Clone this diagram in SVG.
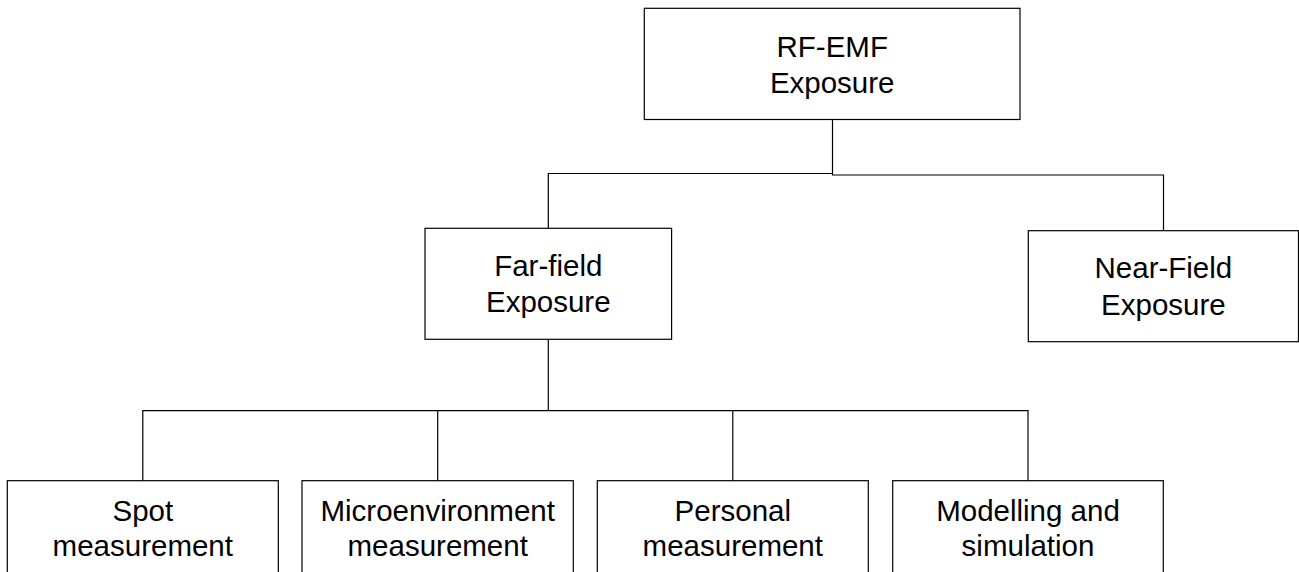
<svg xmlns="http://www.w3.org/2000/svg" width="1299" height="572" viewBox="0 0 1299 572">
<style>
.box{fill:#fff;stroke:#000;stroke-width:1.2}
.lbl{font-family:"Liberation Sans",Arial,sans-serif;font-size:29.5px;fill:#000;text-anchor:middle}
.con{fill:none;stroke:#000;stroke-width:1.2}
</style>
<rect width="1299" height="572" fill="#fff"/>
<g id="connectors">
<polyline class="con" points="832.5,119.5 832.5,175 1163.5,175 1163.5,230.7"/>
<polyline class="con" points="832.5,173.5 548.3,173.5 548.3,228.3"/>
<line class="con" x1="548.3" y1="339.3" x2="548.3" y2="410.7"/>
<polyline class="con" points="142.8,480.7 142.8,410.7 1028,410.7 1028,480.7"/>
<line class="con" x1="437.7" y1="410.7" x2="437.7" y2="480.7"/>
<line class="con" x1="732.8" y1="410.7" x2="732.8" y2="480.7"/>
</g>
<g id="root">
<rect class="box" x="644.3" y="8.3" width="375.7" height="111.2"/>
<text class="lbl" x="832.2" y="56.7">RF-EMF</text>
<text class="lbl" x="832.2" y="93.3">Exposure</text>
</g>
<g id="farfield">
<rect class="box" x="425" y="228.3" width="246.6" height="111"/>
<text class="lbl" x="548.3" y="275.7">Far-field</text>
<text class="lbl" x="548.3" y="311.7">Exposure</text>
</g>
<g id="nearfield">
<rect class="box" x="1028.3" y="230.7" width="270.2" height="111"/>
<text class="lbl" x="1163.4" y="278.3">Near-Field</text>
<text class="lbl" x="1163.4" y="315">Exposure</text>
</g>
<g id="spot">
<rect class="box" x="7.3" y="480.7" width="271" height="120"/>
<text class="lbl" x="142.8" y="520.7">Spot</text>
<text class="lbl" x="142.8" y="556">measurement</text>
</g>
<g id="micro">
<rect class="box" x="302" y="480.7" width="271.3" height="120"/>
<text class="lbl" x="437.7" y="520.7">Microenvironment</text>
<text class="lbl" x="437.7" y="556">measurement</text>
</g>
<g id="personal">
<rect class="box" x="597.3" y="480.7" width="271" height="120"/>
<text class="lbl" x="732.8" y="520.7">Personal</text>
<text class="lbl" x="732.8" y="556">measurement</text>
</g>
<g id="modelling">
<rect class="box" x="892.7" y="480.7" width="270.6" height="120"/>
<text class="lbl" x="1028" y="520.7">Modelling and</text>
<text class="lbl" x="1028" y="556">simulation</text>
</g>
</svg>
